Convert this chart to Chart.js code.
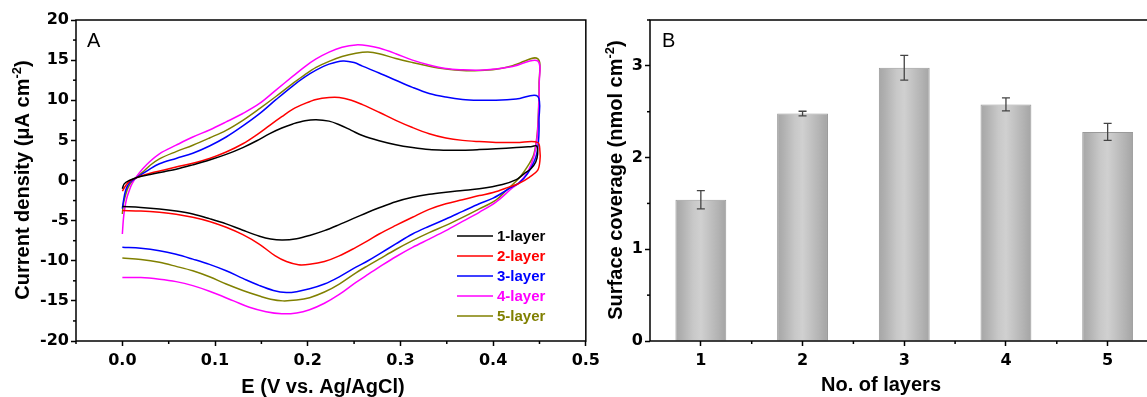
<!DOCTYPE html>
<html><head><meta charset="utf-8">
<script src="https://cdn.jsdelivr.net/npm/chart.js@4.4.0/dist/chart.umd.min.js"></script>
<style>
html,body{margin:0;padding:0;background:#fff;overflow:hidden;width:1147px;height:397px;position:relative;}
#ca{position:absolute;left:0;top:0;}
#cb{position:absolute;left:595px;top:0;}
</style></head><body>
<canvas id="ca" width="605" height="397"></canvas>
<canvas id="cb" width="580" height="397"></canvas>
<script>
// ---------------- Panel A data (E in V, current density in uA cm-2) ----------------
const layerNames = ['1-layer','2-layer','3-layer','4-layer','5-layer'];
const eTicks = [0.0,0.1,0.2,0.3,0.4,0.5];
const jTicks = [-20,-15,-10,-5,0,5,10,15,20];

const l1FwdE = [0,0.002,0.0075,0.0165,0.03,0.045,0.058,0.076,0.094,0.112,0.13,0.145,0.159,0.172,0.184,0.197,0.209,0.223,0.234,0.247,0.259,0.277,0.295,0.313,0.331,0.349,0.367,0.385,0.403,0.425,0.442,0.447];
const l1FwdJ = [-1.04,-0.42,0,0.41,0.75,1.1,1.4,1.95,2.55,3.25,4.1,4.95,5.85,6.55,7.05,7.45,7.58,7.4,6.95,6.25,5.6,4.95,4.45,4.1,3.85,3.78,3.78,3.85,3.95,4.1,4.25,4.3];
const l1RevE = [0.448,0.446,0.441,0.433,0.425,0.41,0.385,0.367,0.349,0.331,0.313,0.295,0.277,0.265,0.252,0.234,0.218,0.202,0.188,0.173,0.16,0.148,0.13,0.112,0.094,0.076,0.058,0.04,0.02,0];
const l1RevJ = [3.3,2.3,1.5,0.8,0.1,-0.5,-1.04,-1.25,-1.46,-1.72,-2.1,-2.65,-3.4,-3.95,-4.6,-5.5,-6.25,-6.85,-7.25,-7.42,-7.3,-6.95,-6.2,-5.4,-4.75,-4.17,-3.8,-3.54,-3.35,-3.25];

const l2FwdE = [0,0.003,0.0075,0.0165,0.03,0.045,0.058,0.076,0.094,0.112,0.13,0.145,0.159,0.172,0.184,0.197,0.209,0.223,0.234,0.247,0.259,0.277,0.295,0.313,0.331,0.349,0.367,0.385,0.403,0.425,0.448];
const l2FwdJ = [-1.33,-0.75,-0.1,0.41,0.9,1.3,1.67,2.15,2.75,3.55,4.58,5.7,6.88,7.95,8.9,9.6,10.1,10.35,10.35,10.0,9.45,8.5,7.5,6.6,5.83,5.3,5.0,4.85,4.75,4.72,4.75];
const l2RevE = [0.4505,0.4505,0.448,0.439,0.428,0.417,0.4,0.385,0.367,0.349,0.331,0.313,0.295,0.277,0.265,0.252,0.234,0.218,0.202,0.19,0.177,0.165,0.148,0.13,0.112,0.094,0.076,0.058,0.04,0.02,0];
const l2RevJ = [3.6,2.5,1.25,0.4,-0.35,-0.83,-1.5,-1.88,-2.4,-2.9,-3.6,-4.58,-5.6,-6.67,-7.5,-8.33,-9.4,-10.1,-10.45,-10.5,-10.1,-9.4,-7.95,-6.75,-5.83,-5.1,-4.58,-4.2,-3.96,-3.8,-3.75];

const l3FwdE = [0,0.001,0.0035,0.0075,0.0165,0.028,0.04,0.058,0.076,0.094,0.112,0.13,0.148,0.166,0.184,0.197,0.209,0.223,0.238,0.25,0.259,0.277,0.295,0.313,0.331,0.349,0.367,0.385,0.403,0.425,0.448];
const l3FwdJ = [-3.5,-2.7,-1.25,-0.3,0.45,1.3,2.08,2.75,3.4,4.3,5.42,6.8,8.33,10.1,11.8,12.9,13.75,14.5,14.9,14.7,14.25,13.4,12.5,11.6,10.85,10.4,10.1,10.0,10.0,10.15,10.5];
const l3RevE = [0.4495,0.449,0.446,0.437,0.428,0.421,0.4,0.385,0.367,0.349,0.331,0.313,0.295,0.277,0.265,0.252,0.234,0.218,0.202,0.188,0.177,0.163,0.148,0.13,0.112,0.094,0.076,0.058,0.04,0.02,0];
const l3RevJ = [7.5,5.0,2.9,0.83,-0.3,-0.75,-2.2,-2.9,-3.85,-4.8,-5.7,-6.67,-7.9,-9.17,-10.0,-10.8,-12.0,-12.9,-13.5,-13.85,-13.96,-13.7,-13.1,-12.2,-11.25,-10.45,-9.8,-9.2,-8.75,-8.45,-8.33];

const l4FwdE = [0,0.001,0.0022,0.0045,0.0075,0.0105,0.0148,0.022,0.03,0.04,0.058,0.076,0.094,0.112,0.13,0.148,0.166,0.184,0.197,0.209,0.223,0.237,0.252,0.265,0.277,0.295,0.313,0.331,0.349,0.367,0.385,0.403,0.421,0.448];
const l4FwdJ = [-6.67,-5.0,-3.75,-2.3,-1.25,-0.4,0.4,1.46,2.4,3.33,4.4,5.42,6.3,7.3,8.35,9.6,11.3,13.0,14.2,15.15,16.0,16.6,16.9,16.8,16.5,15.8,15.0,14.4,13.96,13.8,13.75,13.9,14.2,14.9];
const l4RevE = [0.4497,0.449,0.4475,0.444,0.437,0.428,0.42,0.403,0.385,0.367,0.349,0.331,0.313,0.295,0.277,0.265,0.252,0.234,0.218,0.202,0.188,0.172,0.155,0.137,0.12,0.094,0.076,0.058,0.04,0.02,0];
const l4RevJ = [12,8.5,5.5,3.0,1.0,-0.3,-1.0,-2.7,-3.96,-5.1,-6.25,-7.3,-8.33,-9.5,-10.8,-11.7,-12.7,-14.2,-15.3,-16.1,-16.5,-16.6,-16.35,-15.8,-15.0,-13.8,-13.1,-12.6,-12.3,-12.1,-12.1];

const l5FwdE = [0,0.001,0.003,0.0065,0.012,0.022,0.03,0.04,0.058,0.076,0.094,0.112,0.13,0.148,0.166,0.184,0.197,0.209,0.223,0.237,0.252,0.265,0.277,0.295,0.313,0.331,0.349,0.367,0.385,0.403,0.421,0.448];
const l5FwdJ = [-4.17,-3.0,-2.0,-0.8,0.05,1.04,1.9,2.7,3.6,4.4,5.3,6.25,7.5,8.96,10.5,12.1,13.2,14.1,14.85,15.45,15.85,16.0,15.8,15.2,14.7,14.25,13.9,13.7,13.7,13.85,14.3,15.2];
const l5RevE = [0.4495,0.449,0.4475,0.444,0.439,0.428,0.414,0.403,0.385,0.367,0.349,0.331,0.313,0.295,0.277,0.265,0.252,0.234,0.218,0.202,0.188,0.173,0.16,0.148,0.13,0.112,0.094,0.076,0.058,0.04,0.02,0];
const l5RevJ = [12,9,5.8,3.3,2.1,0.3,-1.25,-2.45,-3.54,-4.6,-5.6,-6.5,-7.5,-8.6,-9.8,-10.6,-11.5,-12.9,-13.9,-14.6,-14.9,-15.0,-14.8,-14.4,-13.7,-12.9,-12.0,-11.25,-10.7,-10.2,-9.85,-9.67];

// ---------------- Panel B data ----------------
const layerCounts = ['1','2','3','4','5'];
const coverage = [1.54, 2.48, 2.98, 2.58, 2.28];
const coverageErr = [0.10, 0.025, 0.135, 0.07, 0.093];
const covTicks = [0,1,2,3];

// ---------------- styling ----------------
const layerColors = ['#000000','#ff0000','#0000ff','#ff00ff','#808000'];
const TICKFONT = {family:'"DejaVu Sans", sans-serif', weight:'bold', size:16};
const ARIAL = '"Liberation Sans", Arial, sans-serif';

function loop(fE, fJ, rE, rJ){
  return fE.map((e,i)=>({x:e,y:fJ[i]})).concat(rE.map((e,i)=>({x:e,y:rJ[i]})));
}
const loops = [
  loop(l1FwdE,l1FwdJ,l1RevE,l1RevJ),
  loop(l2FwdE,l2FwdJ,l2RevE,l2RevJ),
  loop(l3FwdE,l3FwdJ,l3RevE,l3RevJ),
  loop(l4FwdE,l4FwdJ,l4RevE,l4RevJ),
  loop(l5FwdE,l5FwdJ,l5RevE,l5RevJ)
];

function drawTitle(ctx, parts, x, y, rotate){
  ctx.save();
  ctx.translate(x,y);
  if(rotate) ctx.rotate(-Math.PI/2);
  ctx.fillStyle='#000';
  ctx.textBaseline='alphabetic';
  ctx.textAlign='left';
  let total=0;
  parts.forEach(p=>{ctx.font=p.sup?('bold 13px '+ARIAL):('bold 20px '+ARIAL); p.w=ctx.measureText(p.t).width; total+=p.w;});
  let cx=-total/2;
  parts.forEach(p=>{ctx.font=p.sup?('bold 13px '+ARIAL):('bold 20px '+ARIAL); ctx.fillText(p.t,cx,p.sup?-8:0); cx+=p.w;});
  ctx.restore();
}

function frameAndMinor(chart, xMinor, yMinor){
  const {ctx, chartArea:a, scales:{x,y}} = chart;
  ctx.save();
  ctx.strokeStyle='#000'; ctx.lineWidth=1.5;
  ctx.strokeRect(a.left,a.top,a.right-a.left,a.bottom-a.top);
  xMinor.forEach(v=>{const px=x.getPixelForValue(v); ctx.beginPath(); ctx.moveTo(px,a.bottom); ctx.lineTo(px,a.bottom+3); ctx.stroke();});
  yMinor.forEach(v=>{const py=y.getPixelForValue(v); ctx.beginPath(); ctx.moveTo(a.left,py); ctx.lineTo(a.left-3,py); ctx.stroke();});
  ctx.restore();
}

const decorA = {
  id:'decorA',
  afterDraw(chart){
    const {ctx, chartArea:a} = chart;
    const xMinor = eTicks.map(v=>v-0.05);
    const yMinor = jTicks.slice(1).map(v=>v-2.5);
    frameAndMinor(chart, xMinor, yMinor);
    ctx.save();
    ctx.font='bold 15px '+ARIAL; ctx.textBaseline='middle'; ctx.textAlign='left';
    layerNames.forEach((n,i)=>{
      const y=a.top+216+i*20;
      ctx.strokeStyle=layerColors[i]; ctx.lineWidth=1.5;
      ctx.beginPath(); ctx.moveTo(a.left+381,y); ctx.lineTo(a.left+417,y); ctx.stroke();
      ctx.fillStyle=layerColors[i]; ctx.fillText(n,a.left+421,y+1);
    });
    ctx.font='20px '+ARIAL; ctx.fillStyle='#000'; ctx.textBaseline='alphabetic';
    ctx.fillText('A',a.left+11,a.top+27);
    ctx.restore();
    drawTitle(ctx,[{t:'E (V vs. Ag/AgCl)'}],a.left+247,393,false);
    drawTitle(ctx,[{t:'Current density (\u03bcA cm'},{t:'-2',sup:true},{t:')'}],a.left-47.5,180,true);
  }
};

const chartA = new Chart(document.getElementById('ca'),{
  type:'scatter',
  data:{datasets: loops.map((d,i)=>({label:layerNames[i], data:d, showLine:true, borderColor:layerColors[i], borderWidth:1.5, pointRadius:0, tension:0.35, fill:false}))},
  options:{
    responsive:false, animation:false, events:[],
    layout:{padding:{top:20,right:19,left:0,bottom:0}},
    plugins:{legend:{display:false}, tooltip:{enabled:false}},
    scales:{
      x:{type:'linear', min:-0.05, max:0.5,
        afterBuildTicks:s=>{s.ticks=eTicks.map(v=>({value:v}));},
        afterFit:s=>{s.height=56;},
        ticks:{font:TICKFONT, color:'#000', padding:5, maxRotation:0, autoSkip:false, callback:v=>Number(v).toFixed(1)},
        grid:{drawOnChartArea:false, tickLength:5, tickColor:'#000', tickWidth:1.5},
        border:{display:false}},
      y:{type:'linear', min:-20, max:20,
        afterBuildTicks:s=>{s.ticks=jTicks.map(v=>({value:v}));},
        afterFit:s=>{s.width=76;},
        ticks:{font:TICKFONT, color:'#000', padding:2, autoSkip:false, callback:v=>String(v)},
        grid:{drawOnChartArea:false, tickLength:5, tickColor:'#000', tickWidth:1.5},
        border:{display:false}}
    }
  },
  plugins:[decorA]
});

// ---------------- Panel B ----------------
const barShade = {
  id:'barShade',
  afterDatasetsDraw(chart){
    const {ctx, scales:{y}} = chart;
    ctx.save(); ctx.strokeStyle='#444'; ctx.lineWidth=1.3;
    chart.getDatasetMeta(0).data.forEach((el,i)=>{
      const top=y.getPixelForValue(coverage[i]+coverageErr[i]);
      const bot=y.getPixelForValue(coverage[i]-coverageErr[i]);
      ctx.beginPath();
      ctx.moveTo(el.x,top); ctx.lineTo(el.x,bot);
      ctx.moveTo(el.x-4,top); ctx.lineTo(el.x+4,top);
      ctx.moveTo(el.x-4,bot); ctx.lineTo(el.x+4,bot);
      ctx.stroke();
    });
    ctx.restore();
  }
};
function barGradient(c){
  const chart=c.chart, xs=chart.scales.x;
  if(!xs || xs.width===undefined) return '#c0c0c0';
  const cx=xs.getPixelForValue(c.dataIndex);
  const half=(xs.getPixelForValue(1)-xs.getPixelForValue(0))*0.25;
  const g=chart.ctx.createLinearGradient(cx-half,0,cx+half,0);
  g.addColorStop(0,'#a6a6a6'); g.addColorStop(0.12,'#b0b0b0'); g.addColorStop(0.35,'#c8c8c8');
  g.addColorStop(0.5,'#d0d0d0'); g.addColorStop(0.62,'#c6c6c6'); g.addColorStop(0.85,'#b2b2b2'); g.addColorStop(1,'#a4a4a4');
  return g;
}
const decorB = {
  id:'decorB',
  afterDraw(chart){
    const {ctx, chartArea:a} = chart;
    const xMinor = layerCounts.map((c,i)=>i+0.5);
    const yMinor = covTicks.map(v=>v+0.5);
    frameAndMinor(chart, xMinor, yMinor);
    ctx.save();
    ctx.font='20px '+ARIAL; ctx.fillStyle='#000'; ctx.textBaseline='alphabetic';
    ctx.fillText('B',a.left+12,a.top+27);
    ctx.restore();
    drawTitle(ctx,[{t:'No. of layers'}],a.left+231,391,false);
    drawTitle(ctx,[{t:'Surface coverage (nmol cm'},{t:'-2',sup:true},{t:')'}],a.left-28.5,180,true);
  }
};
const chartB = new Chart(document.getElementById('cb'),{
  type:'bar',
  data:{labels:layerCounts, datasets:[{data:coverage, backgroundColor:barGradient, borderColor:'#9a9a9a', borderWidth:1, barPercentage:0.5, categoryPercentage:1.0}]},
  options:{
    responsive:false, animation:false, events:[],
    layout:{padding:{top:20,right:16.5,left:0,bottom:0}},
    plugins:{legend:{display:false}, tooltip:{enabled:false}},
    scales:{
      x:{afterFit:s=>{s.height=56;},
        ticks:{font:TICKFONT, color:'#000', padding:5, maxRotation:0},
        grid:{offset:false, drawOnChartArea:false, tickLength:5, tickColor:'#000', tickWidth:1.5},
        border:{display:false}},
      y:{type:'linear', min:0, max:3.5,
        afterBuildTicks:s=>{s.ticks=covTicks.map(v=>({value:v}));},
        afterFit:s=>{s.width=55;},
        ticks:{font:TICKFONT, color:'#000', padding:2, callback:v=>String(v)},
        grid:{drawOnChartArea:false, tickLength:5, tickColor:'#000', tickWidth:1.5},
        border:{display:false}}
    }
  },
  plugins:[barShade, decorB]
});
</script>
</body></html>
